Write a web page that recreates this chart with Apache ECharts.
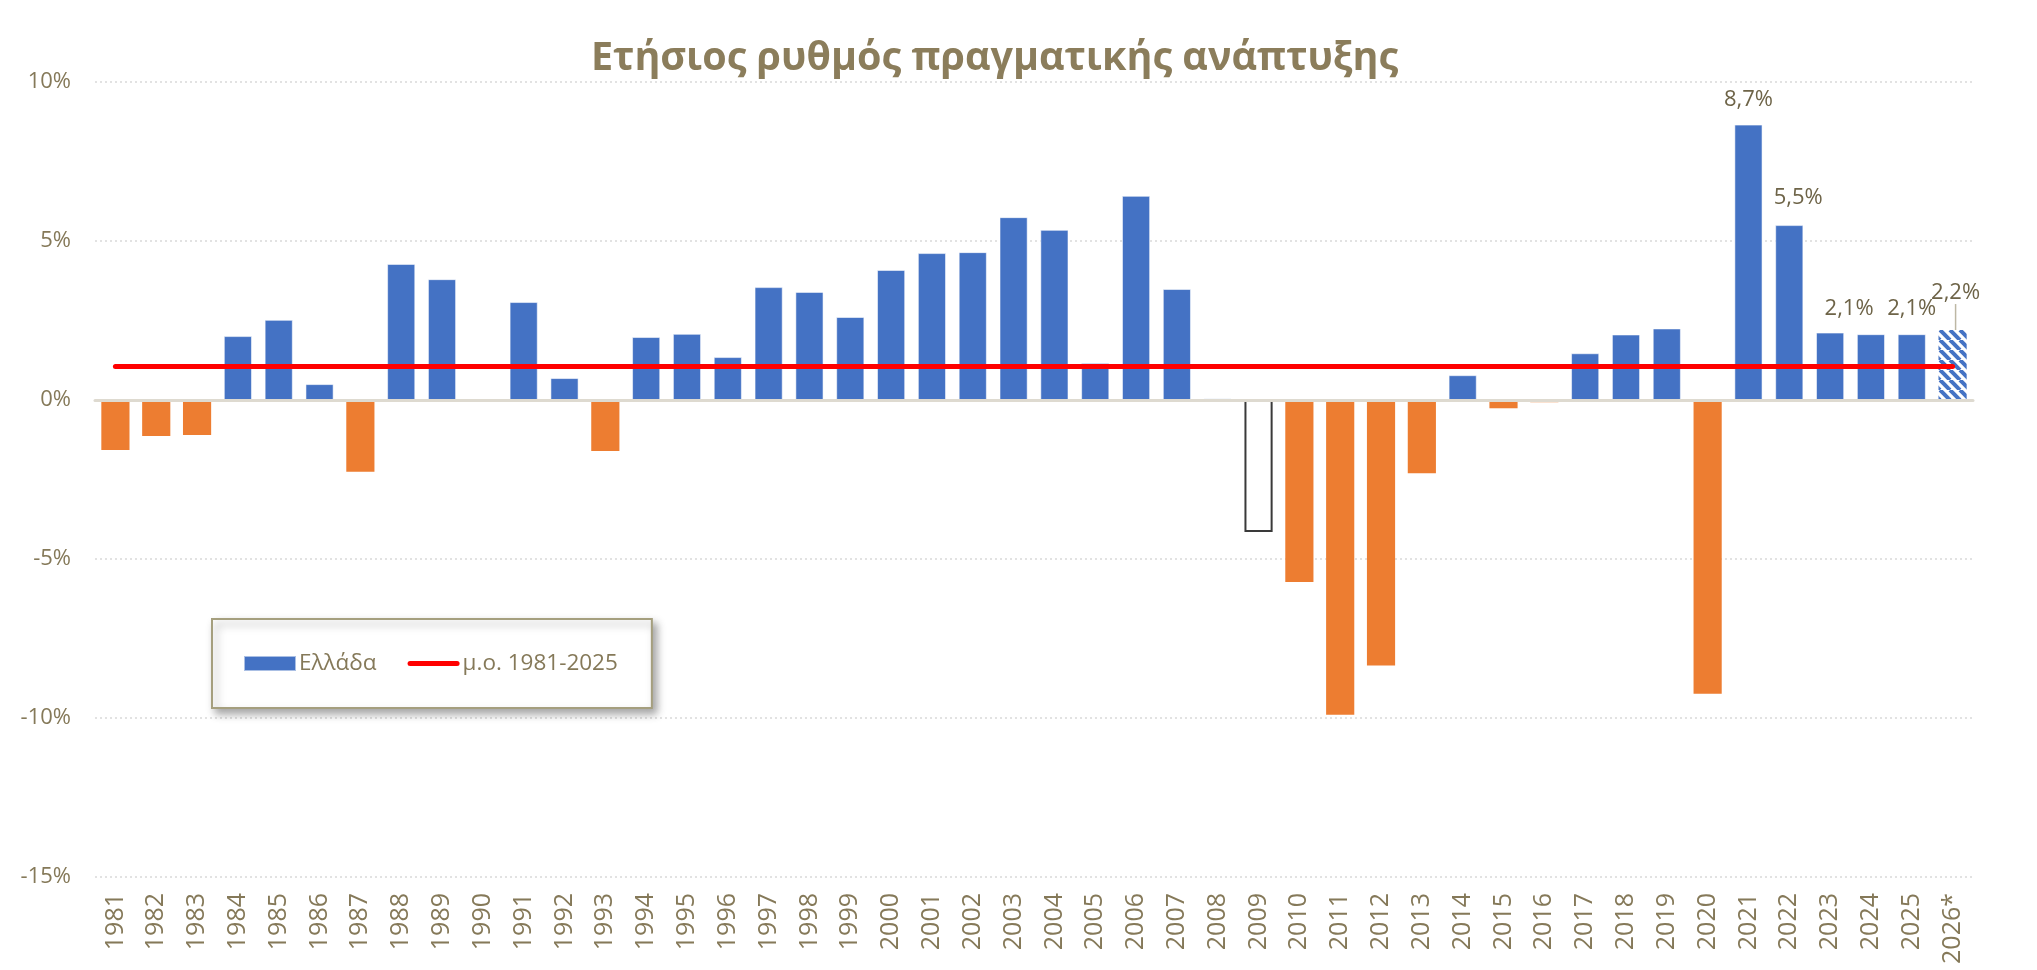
<!DOCTYPE html>
<html>
<head>
<meta charset="utf-8">
<title>Ετήσιος ρυθμός πραγματικής ανάπτυξης</title>
<script src="https://cdn.jsdelivr.net/npm/echarts@6/dist/echarts.min.js"></script>
<style>
    html, body { margin: 0; padding: 0; background: #ffffff; }
    #echart { width: 2037px; height: 970px; }
</style>
</head>
<body>
<div id="echart"></div>
<script>
// data
const years = ['1981', '1982', '1983', '1984', '1985', '1986', '1987', '1988', '1989', '1990',
    '1991', '1992', '1993', '1994', '1995', '1996', '1997', '1998', '1999', '2000',
    '2001', '2002', '2003', '2004', '2005', '2006', '2007', '2008', '2009', '2010',
    '2011', '2012', '2013', '2014', '2015', '2016', '2017', '2018', '2019', '2020',
    '2021', '2022', '2023', '2024', '2025', '2026*'];

const growth = [-1.57, -1.13, -1.10, 2.01, 2.52, 0.50, -2.26, 4.28, 3.80, 0.00,
    3.08, 0.69, -1.60, 1.98, 2.08, 1.35, 3.55, 3.40, 2.61, 4.09,
    4.62, 4.65, 5.75, 5.35, 1.16, 6.42, 3.49, 0.05, -4.15, -5.72,
    -9.90, -8.35, -2.30, 0.78, -0.26, -0.07, 1.47, 2.06, 2.25, -9.24,
    8.66, 5.50, 2.12, 2.07, 2.07, 2.20];

const avgLine = [['1981', 1.05], ['2026*', 1.05]];

const yTicks = [-15, -10, -5, 0, 5, 10];

const labelYears = ['2021', '2022', '2023', '2025', '2026*'];
const outlineYear = '2009';
const forecastYear = '2026*';

const textColor = '#857959';
const fontName = "'Open Sans', sans-serif";

function stripe_pattern() {
    const c = document.createElement('canvas');
    c.width = 10;
    c.height = 10;
    const ctx = c.getContext('2d');
    ctx.fillStyle = '#ffffff';
    ctx.fillRect(0, 0, 10, 10);
    ctx.strokeStyle = '#4472C4';
    ctx.lineWidth = 4;
    [-10, 0, 10].forEach(function (off) {
        ctx.beginPath();
        ctx.moveTo(off, 0);
        ctx.lineTo(off + 10, 10);
        ctx.stroke();
    });
    return c;
}

function pct(v) {
    return v.toFixed(1).replace('.', ',') + '%';
}

const barData = growth.map(function (v, i) {
    const year = years[i];
    let item = {value: v};
    if (year === outlineYear) {
        item.itemStyle = {color: '#ffffff', borderColor: '#3a3a3a', borderWidth: 2};
    } else if (year === forecastYear) {
        item.itemStyle = {color: {image: stripe_pattern(), repeat: 'repeat'}, borderWidth: 0};
        item.labelLine = {show: true};
    } else if (v < 0) {
        item.itemStyle = {color: '#ED7D31', borderWidth: 0};
    }
    if (labelYears.indexOf(year) >= 0) {
        item.label = {show: true};
    }
    return item;
});

// manual nudges of the data labels, as in the original
const labelShift = {
    '2021': [0, -9],
    '2022': [9, -11],
    '2023': [19, -8],
    '2025': [0, -9],
    '2026*': [3, -21]
};

const option = {
    animation: false,
    backgroundColor: '#ffffff',
    title: {
        text: 'Ετήσιος ρυθμός πραγματικής ανάπτυξης',
        left: 586,
        top: 34,
        textStyle: {
            fontFamily: fontName,
            fontSize: 39.5,
            fontWeight: 'bold',
            color: '#8B7D5B'
        }
    },
    legend: {
        data: [
            {name: 'Ελλάδα', icon: 'rect'},
            {name: 'μ.ο. 1981-2025', icon: 'path://M2.5,0 L49.5,0 A2.5,2.5 0 0 1 49.5,5 L2.5,5 A2.5,2.5 0 0 1 2.5,0 Z'}
        ],
        left: 212,
        top: 619,
        orient: 'horizontal',
        padding: [33, 34, 33, 31],
        itemWidth: 52,
        itemHeight: 15,
        itemGap: 31,
        backgroundColor: '#ffffff',
        borderColor: '#A59F7E',
        borderWidth: 2,
        shadowColor: 'rgba(0, 0, 0, 0.35)',
        shadowBlur: 8,
        shadowOffsetX: 4,
        shadowOffsetY: 5,
        textStyle: {
            fontFamily: fontName,
            fontSize: 22.5,
            color: textColor,
            padding: [0, 0, 0, -2]
        }
    },
    grid: {
        left: 95,
        right: 64,
        top: 82,
        bottom: 93
    },
    xAxis: {
        type: 'category',
        data: years,
        axisTick: {show: false},
        axisLine: {
            onZero: true,
            lineStyle: {color: '#DEDAD0', width: 3}
        },
        axisLabel: {
            interval: 0,
            rotate: 90,
            margin: 16,
            fontFamily: fontName,
            fontSize: 25,
            color: textColor
        },
        z: 5
    },
    yAxis: {
        type: 'value',
        min: yTicks[0],
        max: yTicks[yTicks.length - 1],
        interval: 5,
        axisLine: {show: false},
        axisTick: {show: false},
        splitLine: {
            lineStyle: {color: '#D9D9D9', type: [2, 3], width: 1.5}
        },
        axisLabel: {
            margin: 24,
            fontFamily: fontName,
            fontSize: 22,
            color: textColor,
            formatter: function (v) {
                return v + '%';
            }
        }
    },
    series: [{
        name: 'Ελλάδα',
        type: 'bar',
        data: barData,
        barCategoryGap: '31%',
        itemStyle: {
            color: '#4472C4',
            borderColor: 'rgba(255, 255, 255, 0.55)',
            borderWidth: 1
        },
        label: {
            show: false,
            position: 'top',
            distance: 5,
            fontFamily: fontName,
            fontSize: 22,
            color: '#6E6448',
            formatter: function (p) {
                return pct(p.value);
            }
        },
        labelLayout: function (params) {
            const s = labelShift[years[params.dataIndex]];
            if (!s) {
                return {};
            }
            return {dx: s[0], dy: s[1]};
        },
        labelLine: {
            show: false,
            lineStyle: {color: '#BDB7A4', width: 1.5}
        },
        z: 2
    }, {
        name: 'μ.ο. 1981-2025',
        type: 'line',
        data: avgLine,
        symbol: 'none',
        lineStyle: {color: '#FF0000', width: 5, cap: 'round'},
        itemStyle: {color: '#FF0000'},
        z: 4
    }]
};

const chart = echarts.init(document.getElementById('echart'));
chart.setOption(option);
</script>
</body>
</html>
